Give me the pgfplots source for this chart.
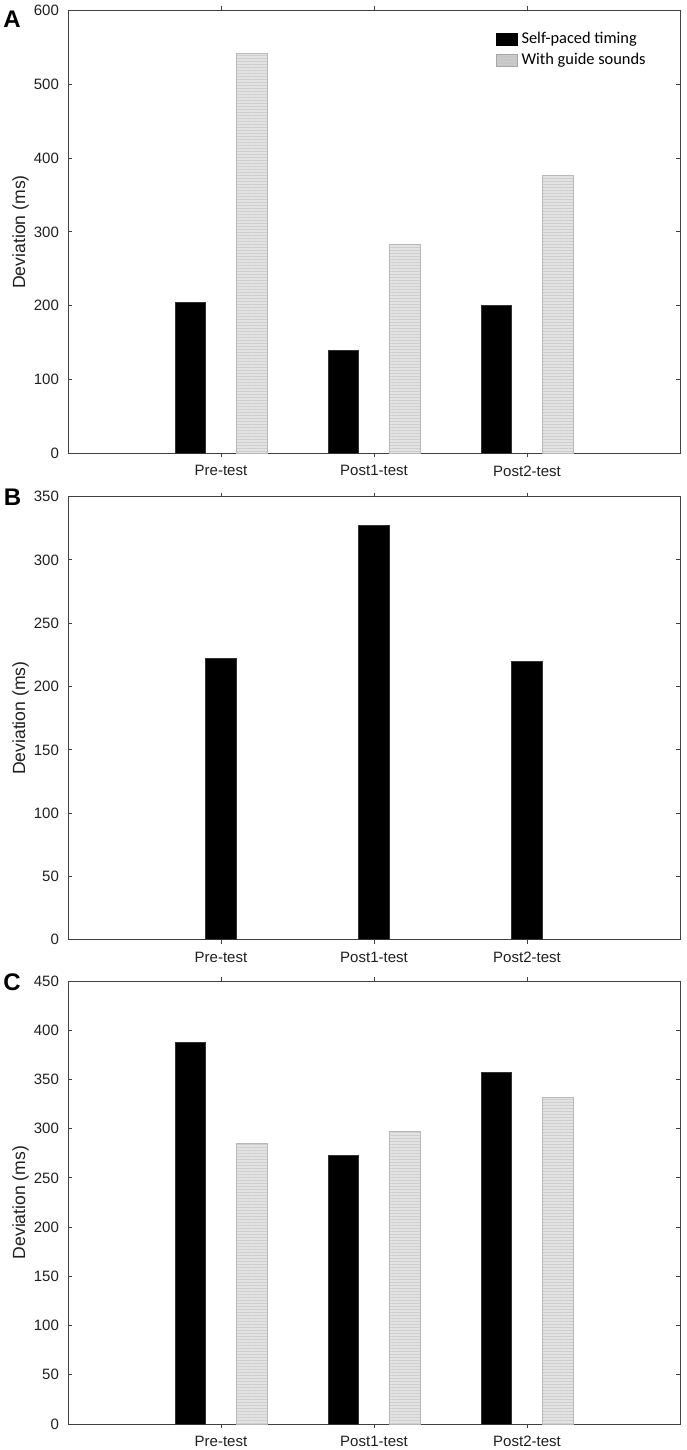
\documentclass[border=0pt]{standalone}
\usepackage{fontspec}
\setmainfont{Liberation Sans}
\newfontfamily\carlito{Carlito}
\usepackage{pgfplots}
\pgfplotsset{compat=1.18}
\usetikzlibrary{patterns.meta}
\definecolor{barfill}{gray}{0.89}
\definecolor{barline}{gray}{0.80}
\definecolor{bardraw}{gray}{0.72}
\pgfplotsset{
  panel/.style={
    scale only axis,
    width=306pt, height=221.5pt,
    anchor=north west,
    xmin=-1, xmax=3,
    ymin=0,
    xtick={0,1,2},
    xticklabels={Pre-test,Post1-test,Post2-test},
    tick align=inside,
    major tick length=2pt,
    axis line style={black!75, line width=0.5pt},
    tick style={black!75, line width=0.5pt},
    ticklabel style={font=\fontsize{7.5}{8}\selectfont, text=black!88},
    /pgf/number format/assume math mode=true,
    yticklabel style={xshift=-1pt},
    xticklabel style={yshift=-0.5pt},
    every axis y label/.style={at={(axis description cs:-0.0773,0.5)}, anchor=center, rotate=90, font=\fontsize{8.8}{9}\selectfont, text=black!88},
    ylabel={Deviation (ms)},
    ybar, bar width=0.2,
  },
  blackbar/.style={fill=black, draw=black!80, line width=0.4pt},
  graybar/.style={fill=barfill, draw=bardraw, line width=0.4pt,
    postaction={pattern={Lines[angle=0,distance=1.5pt,line width=0.4pt]}, pattern color=barline}},
}
\begin{document}
\begin{tikzpicture}
\path[use as bounding box] (0pt,0pt) rectangle (343pt,-725pt);
% Panel A
\begin{axis}[panel, at={(34pt,-5.25pt)}, ymax=600, ytick={0,100,...,600},
  legend style={draw=none, fill=none, at={(axis description cs:0.695,0.965)}, anchor=north west,
    font=\carlito\fontsize{8.2}{8}\selectfont, row sep=-0.6pt, inner sep=1pt},
  legend cell align=left]
\addplot[blackbar, bar shift=-0.2,
  legend image code/.code={\fill[black] (0pt,-3pt) rectangle (10.5pt,3pt);}]
  coordinates {(0,205) (1,139) (2,200)};
\addlegendentry{Self-paced timing}
\addplot[graybar, bar shift=0.2,
  legend image code/.code={\draw[fill=black!22, draw=black!35] (0pt,-3pt) rectangle (10.5pt,3pt);}]
  coordinates {(0,542) (1,283) (2,376)};
\addlegendentry{With guide sounds}
\end{axis}
% Panel B
\begin{axis}[panel, at={(34pt,-248.35pt)}, ymax=350, ytick={0,50,...,350}]
\addplot[blackbar, bar shift=0]
  coordinates {(0,222) (1,327) (2,220)};
\end{axis}
% Panel C
\begin{axis}[panel, at={(34pt,-490.5pt)}, ymax=450, ytick={0,50,...,450}]
\addplot[blackbar, bar shift=-0.2]
  coordinates {(0,388) (1,273) (2,357)};
\addplot[graybar, bar shift=0.2]
  coordinates {(0,285) (1,297) (2,332)};
\end{axis}
\node[font=\bfseries\fontsize{12}{12}\selectfont] at (6pt,-9.75pt) {A};
\node[font=\bfseries\fontsize{12}{12}\selectfont] at (6.25pt,-248.75pt) {B};
\node[font=\bfseries\fontsize{12}{12}\selectfont] at (6pt,-491pt) {C};
\end{tikzpicture}
\end{document}
